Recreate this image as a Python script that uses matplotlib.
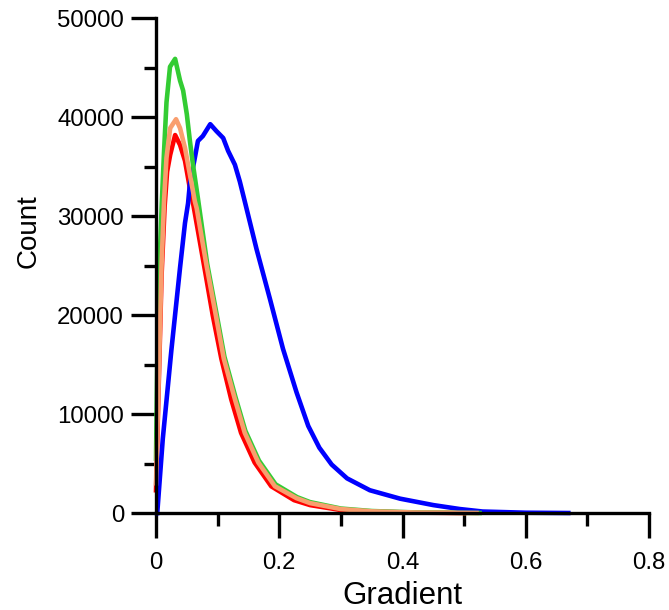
import matplotlib
matplotlib.use('Agg')
import matplotlib.pyplot as plt
from matplotlib.ticker import MultipleLocator, FuncFormatter

plt.rcParams['font.family'] = ['Liberation Sans', 'DejaVu Sans']

# gradient histograms, values
blue_x = [0.002, 0.011, 0.025, 0.039, 0.047, 0.052, 0.055, 0.063, 0.068, 0.076,
          0.088, 0.098, 0.109, 0.117, 0.128, 0.136, 0.144, 0.163, 0.185, 0.206,
          0.228, 0.247, 0.265, 0.285, 0.310, 0.347, 0.396, 0.450, 0.493, 0.530,
          0.600, 0.669]
blue_y = [0, 7500, 16500, 24800, 29300, 31300, 33300, 35900, 37600, 38100,
          39300, 38600, 37900, 36600, 35200, 33500, 31500, 26700, 21600, 16600,
          12200, 8800, 6600, 4900, 3500, 2300, 1450, 800, 400, 150,
          30, 0]

red_x = [0.0, 0.004, 0.009, 0.014, 0.018, 0.023, 0.031, 0.039, 0.047, 0.055,
         0.061, 0.078, 0.092, 0.106, 0.122, 0.138, 0.160, 0.187, 0.224, 0.250,
         0.300, 0.350, 0.420, 0.500]
red_y = [2300, 12000, 24000, 31000, 34500, 36200, 38200, 37200, 35600, 32800,
         31000, 25000, 20000, 15600, 11500, 8100, 5100, 2700, 1300, 800,
         300, 130, 40, 0]

green_x = [0.0, 0.002, 0.005, 0.0093, 0.013, 0.017, 0.0227, 0.031, 0.039, 0.044,
           0.050, 0.055, 0.060, 0.068, 0.083, 0.098, 0.111, 0.129, 0.145, 0.167,
           0.194, 0.229, 0.250, 0.300, 0.350, 0.420, 0.525]
green_y = [5500, 15000, 24000, 31200, 36500, 41500, 45100, 45900, 43700, 42700,
           40300, 37600, 35200, 31800, 25200, 20200, 15800, 11700, 8300, 5300,
           2900, 1600, 1100, 450, 200, 60, 0]

orange_x = [0.0, 0.0035, 0.009, 0.013, 0.017, 0.023, 0.0325, 0.039, 0.047, 0.055,
            0.063, 0.066, 0.082, 0.097, 0.110, 0.128, 0.144, 0.166, 0.193, 0.228,
            0.250, 0.300, 0.350, 0.420, 0.520]
orange_y = [3000, 11500, 25000, 31500, 35900, 38900, 39800, 38900, 36900, 34200,
            31500, 30800, 25000, 20000, 15600, 11500, 8100, 5100, 2700, 1500,
            1000, 400, 170, 50, 0]

fig = plt.figure(figsize=(6.69, 6.10), dpi=100)
ax = fig.add_axes([0.2332, 0.159, 0.737, 0.811])

lw = 3.3
ax.plot(red_x, red_y, color='#ff0000', lw=lw, clip_on=False)
ax.plot(blue_x, blue_y, color='#0000ff', lw=lw, clip_on=False)
ax.plot(green_x, green_y, color='#33cc33', lw=lw, clip_on=False)
ax.plot(orange_x, orange_y, color='#f99e6e', lw=lw, clip_on=False)

ax.set_xlim(0, 0.8)
ax.set_ylim(0, 50000)
ax.xaxis.set_major_locator(MultipleLocator(0.2))
ax.xaxis.set_minor_locator(MultipleLocator(0.1))
ax.yaxis.set_major_locator(MultipleLocator(10000))
ax.yaxis.set_minor_locator(MultipleLocator(5000))
ax.xaxis.set_major_formatter(FuncFormatter(lambda v, p: '0' if v == 0 else '%g' % v))

ax.spines['top'].set_visible(False)
ax.spines['right'].set_visible(False)
for s in ('left', 'bottom'):
    ax.spines[s].set_linewidth(2.4)
ax.tick_params(which='major', direction='out', length=18, width=2.4,
               labelsize=17.3, pad=5)
ax.tick_params(axis='x', which='major', pad=10)
ax.tick_params(which='minor', direction='out', length=9, width=2.4)

ax.set_xlabel('Gradient', fontsize=22.5)
ax.set_ylabel('Count', fontsize=20)
ax.xaxis.set_label_coords(0.5, -0.138)
ax.yaxis.set_label_coords(-0.231, 0.57)

fig.savefig('out.png', dpi=100)
